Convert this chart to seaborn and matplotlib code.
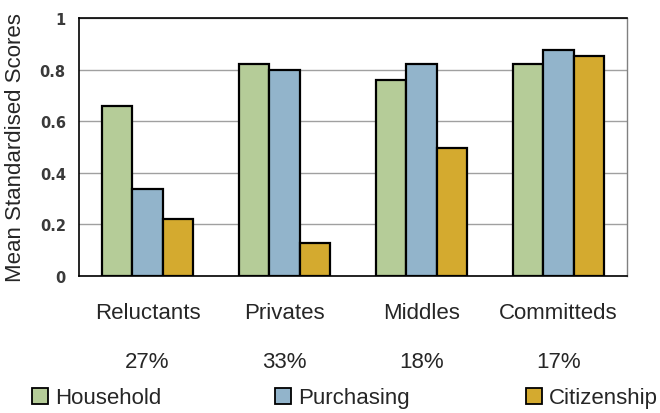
import matplotlib
matplotlib.use("Agg")
import matplotlib.pyplot as plt
import matplotlib.patches as mpatches
import seaborn as sns
import pandas as pd

categories = ["Reluctants", "Privates", "Middles", "Committeds"]
shares = ["27%", "33%", "18%", "17%"]
series = ["Household", "Purchasing", "Citizenship"]
household = [0.66, 0.82, 0.76, 0.82]
purchasing = [0.336, 0.797, 0.82, 0.876]
citizenship = [0.22, 0.127, 0.495, 0.852]
colors = ["#b5cc98", "#92b4cb", "#d4aa2f"]

rows = []
for s, vals in zip(series, [household, purchasing, citizenship]):
    for c, v in zip(categories, vals):
        rows.append({"Segment": c, "Series": s, "Score": v})
df = pd.DataFrame(rows)

sns.set_style("white")
plt.rcParams["font.family"] = ["Liberation Sans", "DejaVu Sans"]

fig = plt.figure(figsize=(6.6, 4.14), dpi=100)
ax = fig.add_axes([79/660, 1-277/414, 548/660, 258/414])

sns.barplot(data=df, x="Segment", y="Score", hue="Series", order=categories,
            hue_order=series, palette=colors, saturation=1, width=0.67,
            edgecolor="black", linewidth=1.6, ax=ax, legend=False, zorder=3)

ax.set_ylim(0, 1)
ax.set_xlim(-0.5, 3.5)
ax.set_yticks([0, 0.2, 0.4, 0.6, 0.8, 1.0])
ax.set_yticklabels(["0", "0.2", "0.4", "0.6", "0.8", "1"], fontsize=10.5,
                   fontweight="bold", color="#3a3a3a", family="DejaVu Sans")
ax.tick_params(axis="y", length=0, pad=9.5)
ax.set_xticks([])
ax.set_xlabel("")
ax.set_ylabel("Mean Standardised Scores", fontsize=16, labelpad=10)
ax.yaxis.grid(True, color="#a0a0a0", linewidth=1, zorder=0)
ax.set_axisbelow(True)
for side in ["left", "bottom", "top"]:
    ax.spines[side].set_color("black")
    ax.spines[side].set_linewidth(1.2)
ax.spines["right"].set_color("#808080")
ax.spines["right"].set_linewidth(1)

for i, (c, p) in enumerate(zip(categories, shares)):
    ax.annotate(c, xy=(i, 0), xycoords=("data", "axes fraction"),
                xytext=(0, -26), textcoords="offset points",
                ha="center", va="center", fontsize=16)
    ax.annotate(p, xy=(i, 0), xycoords=("data", "axes fraction"),
                xytext=(0, -61.5), textcoords="offset points",
                ha="center", va="center", fontsize=16)

legend_x = [32/660, 275/660, 526/660]
for s, col, lx in zip(series, colors, legend_x):
    h = mpatches.Patch(facecolor=col, edgecolor="black", linewidth=1.3)
    fig.legend([h], [s], loc="center left", bbox_to_anchor=(lx, 1-399/414),
               frameon=False, fontsize=16, handlelength=0.72, handleheight=0.72,
               handletextpad=0.3, borderpad=0, borderaxespad=0)

fig.savefig("out.png", dpi=100)
